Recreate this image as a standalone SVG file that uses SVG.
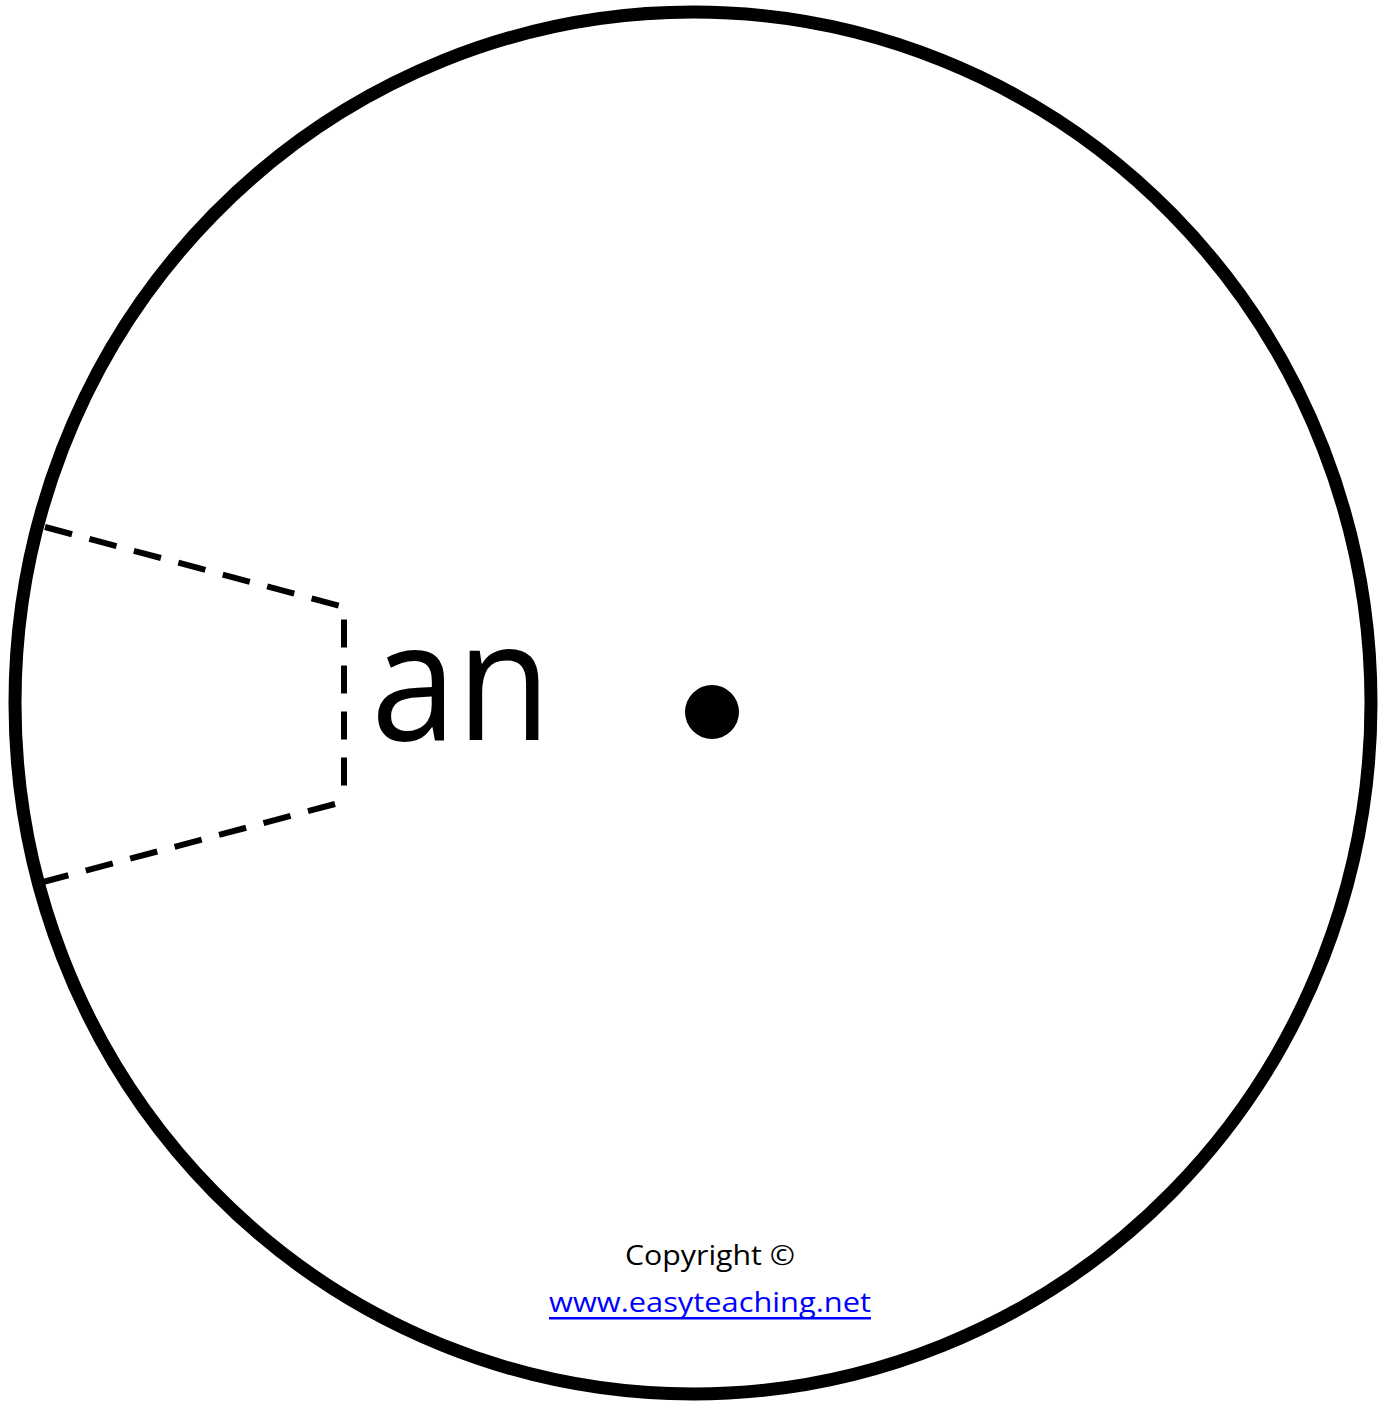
<svg xmlns="http://www.w3.org/2000/svg" width="1399" height="1402" viewBox="0 0 1399 1402">
<style>
.ring{fill:#fff;stroke:#000;stroke-width:13}
.cut{fill:none;stroke:#000;stroke-width:6;stroke-dasharray:28 18}
.word{font-family:"Open Sans","Noto Sans",sans-serif;fill:#000}
.small{font-family:"Open Sans","Noto Sans",sans-serif;font-size:28px;text-anchor:middle}
</style>
<rect width="1399" height="1402" fill="#fff"/>
<g id="wheel">
<ellipse class="ring" cx="693" cy="703" rx="678" ry="691"/>
</g>
<g id="connectors">
<path class="cut" d="M45,527 L344,607 L344,797"/>
<path class="cut" d="M335,804 L43,882"/>
</g>
<g id="label">
<text class="word" x="371" y="740" font-size="166" textLength="180" lengthAdjust="spacingAndGlyphs">an</text>
</g>
<g id="pivot">
<circle cx="712" cy="712" r="27" fill="#000"/>
</g>
<g id="copyright">
<text class="small" x="710" y="1265" fill="#000" textLength="170" lengthAdjust="spacingAndGlyphs">Copyright ©</text>
<text class="small" x="710" y="1312" fill="#0000ff" textLength="322" lengthAdjust="spacingAndGlyphs">www.easyteaching.net</text>
<rect x="549" y="1317" width="322" height="2.5" fill="#0000ff"/>
</g>
</svg>
